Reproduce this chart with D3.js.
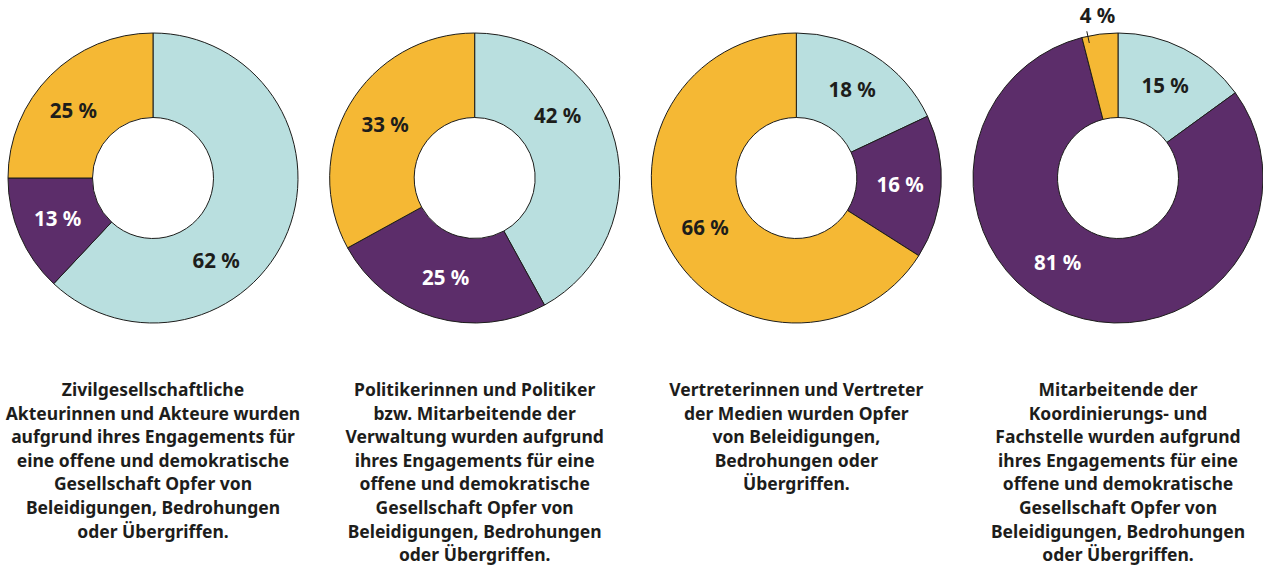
<!DOCTYPE html>
<html><head><meta charset="utf-8">
<script src="https://cdn.jsdelivr.net/npm/d3@7"></script>
<style>body{margin:0;background:#fff}svg{display:block}</style>
</head><body>
<svg id="c" width="1263" height="567"></svg>
<script>
const categories = ["Ja", "Nein", "Keine Angabe"];
const groups = ["Zivilgesellschaft", "Politik/Verwaltung", "Medien", "Koordinierungs- und Fachstelle"];
const seriesTeal = [62, 42, 18, 15];
const seriesPurple = [13, 25, 16, 81];
const seriesYellow = [25, 33, 66, 4];
const captions = [
  ["Zivilgesellschaftliche", "Akteurinnen und Akteure wurden", "aufgrund ihres Engagements für", "eine offene und demokratische", "Gesellschaft Opfer von", "Beleidigungen, Bedrohungen", "oder Übergriffen."],
  ["Politikerinnen und Politiker", "bzw. Mitarbeitende der", "Verwaltung wurden aufgrund", "ihres Engagements für eine", "offene und demokratische", "Gesellschaft Opfer von", "Beleidigungen, Bedrohungen", "oder Übergriffen."],
  ["Vertreterinnen und Vertreter", "der Medien wurden Opfer", "von Beleidigungen,", "Bedrohungen oder", "Übergriffen."],
  ["Mitarbeitende der", "Koordinierungs- und", "Fachstelle wurden aufgrund", "ihres Engagements für eine", "offene und demokratische", "Gesellschaft Opfer von", "Beleidigungen, Bedrohungen", "oder Übergriffen."]
];
// label angle nudges (degrees), per group per category
const labelNudge = [[31, 0, -5], [-22.6, 0, 0], [0, 0, 0], [0, 15.7, 0]];

const colors = ["#b9dfdf", "#5c2d6a", "#f5b834"];
const textColors = ["#1d1d1b", "#ffffff", "#1d1d1b"];
const cx = d3.scalePoint().domain(groups).range([153, 1118]);
const cy = 178, R = 145, r0 = 60.5, rl = 104;
const svg = d3.select("#c");
const pie = d3.pie().sort(null).value(d => d.v);
const arc = d3.arc().innerRadius(r0).outerRadius(R);
const fontFam = "'Noto Sans', 'DejaVu Sans', sans-serif";

groups.forEach((g, gi) => {
  const vals = [seriesTeal[gi], seriesPurple[gi], seriesYellow[gi]].map((v, i) => ({v, i}));
  const arcs = pie(vals);
  const gg = svg.append("g").attr("transform", `translate(${cx(g)},${cy})`);
  gg.selectAll("path").data(arcs).join("path")
    .attr("d", arc).attr("fill", d => colors[d.data.i])
    .attr("stroke", "#1d1d1b").attr("stroke-width", 1);
  arcs.forEach(a => {
    const v = a.data.v, i = a.data.i;
    const mid = (a.startAngle + a.endAngle) / 2 + labelNudge[gi][i] * Math.PI / 180;
    if (v < 8) {
      const la = mid - 4.8 * Math.PI / 180;
      gg.append("line")
        .attr("x1", Math.sin(la) * (R - 7)).attr("y1", -Math.cos(la) * (R - 7))
        .attr("x2", Math.sin(la) * (R + 5)).attr("y2", -Math.cos(la) * (R + 5))
        .attr("stroke", "#1d1d1b").attr("stroke-width", 1);
      gg.append("text")
        .attr("x", Math.sin(mid) * (R + 18)).attr("y", -Math.cos(mid) * (R + 18))
        .attr("text-anchor", "middle").attr("dy", "0.35em")
        .attr("font-family", fontFam).attr("font-weight", 700).attr("font-size", 20.5)
        .attr("fill", "#1d1d1b").text(v + " %");
    } else {
      gg.append("text")
        .attr("x", Math.sin(mid) * rl).attr("y", -Math.cos(mid) * rl)
        .attr("text-anchor", "middle").attr("dy", "0.35em")
        .attr("font-family", fontFam).attr("font-weight", 700).attr("font-size", 20.5)
        .attr("fill", textColors[i]).text(v + " %");
    }
  });
  const t = svg.append("text").attr("text-anchor", "middle")
    .attr("font-family", fontFam).attr("font-weight", 700).attr("font-size", 17.5)
    .attr("fill", "#1d1d1b");
  captions[gi].forEach((line, li) => {
    t.append("tspan").attr("x", cx(g)).attr("y", 396 + li * 23.6).text(line);
  });
});
</script>
</body></html>
